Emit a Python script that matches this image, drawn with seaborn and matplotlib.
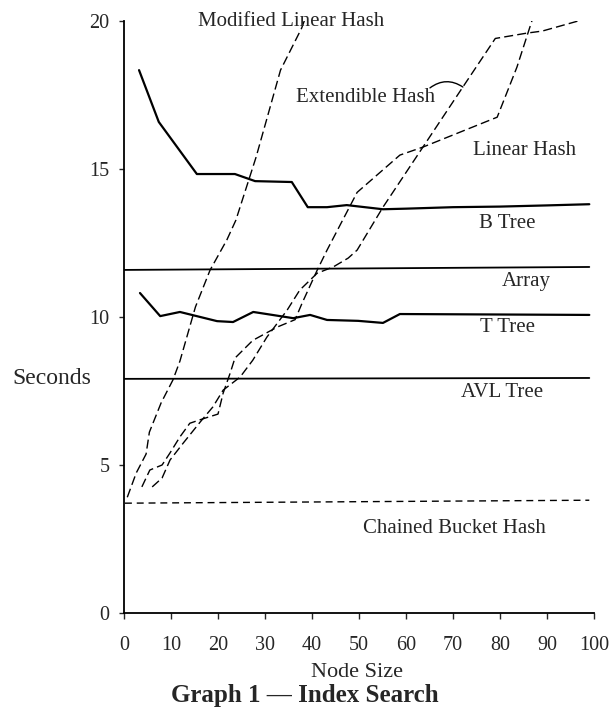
import matplotlib
matplotlib.use("Agg")
import matplotlib.pyplot as plt
import seaborn as sns
import numpy as np

# ---- data ----
btree_x = [3.2, 7.4, 15.5, 23.6, 27.9, 35.7, 39.1, 43.2, 47.4, 55.1, 60, 70, 80, 90, 99]
btree_y = [18.33, 16.58, 14.82, 14.82, 14.58, 14.55, 13.7, 13.7, 13.77, 13.63, 13.65, 13.7, 13.72, 13.76, 13.8]

ttree_x = [3.4, 7.7, 11.9, 19.8, 23.2, 27.5, 33.2, 36.0, 39.6, 43.2, 49.8, 55.1, 58.7, 99]
ttree_y = [10.8, 10.02, 10.16, 9.85, 9.82, 10.16, 10.02, 9.95, 10.06, 9.89, 9.86, 9.79, 10.09, 10.06]

array_x = [0, 99]
array_y = [11.58, 11.68]

avl_x = [0, 99]
avl_y = [7.9, 7.93]

chained_x = [0.2, 99]
chained_y = [3.7, 3.8]

mlh_x = [0.7, 2.6, 4.7, 5.4, 7.9, 10.4, 11.9, 15.2, 18.3, 21.9, 23.8, 28.1, 33.3, 37.8, 38.6]
mlh_y = [3.9, 4.72, 5.36, 6.1, 7.09, 7.86, 8.5, 10.33, 11.57, 12.6, 13.26, 15.39, 18.33, 19.75, 20.1]

linear_x = [3.8, 5.5, 8.1, 9.8, 11.9, 14.0, 16.6, 20.0, 21.1, 22.6, 23.6, 27.4, 32.6, 36.4,
            37.9, 41.1, 43.2, 49.6, 58.7, 63.6, 79.4, 83.6, 87.0]
linear_y = [4.25, 4.82, 4.99, 5.4, 5.94, 6.4, 6.54, 6.71, 7.42, 8.1, 8.6, 9.2, 9.65, 9.9,
            10.46, 11.57, 12.25, 14.2, 15.46, 15.73, 16.74, 18.43, 20.1]

ext_x = [6.0, 8.1, 9.8, 12.6, 16.2, 18.9, 21.1, 24.7, 27.4, 30.4, 34.7, 37.4, 41.1, 44.5,
         47.7, 49.6, 55.1, 63.6, 72.1, 79.0, 85.7, 89.0, 99.1]
ext_y = [4.25, 4.55, 5.16, 5.73, 6.44, 6.95, 7.52, 7.96, 8.53, 9.31, 10.22, 10.9, 11.47, 11.68,
         11.98, 12.25, 13.7, 15.73, 17.76, 19.4, 19.58, 19.65, 20.1]

x_ticks = [0, 10, 20, 30, 40, 50, 60, 70, 80, 90, 100]
y_ticks = [0, 5, 10, 15, 20]

labels = [
    ("Modified Linear Hash", 35.5, 19.98),
    ("Extendible Hash", 51.3, 17.4),
    ("Linear Hash", 85.2, 15.6),
    ("B Tree", 81.6, 13.15),
    ("Array", 85.7, 11.2),
    ("T Tree", 81.7, 9.65),
    ("AVL Tree", 80.4, 7.43),
    ("Chained Bucket Hash", 70.2, 2.86),
]

# ---- styling ----
sns.set_style("ticks")
plt.rcParams["font.family"] = ["Liberation Serif", "DejaVu Serif"]
plt.rcParams["lines.scale_dashes"] = False

fig = plt.figure(figsize=(6.13, 7.17), dpi=100)
ax = fig.add_axes([124 / 613, 1 - 612.7 / 717, 470 / 613, 592 / 717])

solid_kw = dict(color="black", estimator=None, sort=False, ax=ax, legend=False)

sns.lineplot(x=btree_x, y=btree_y, lw=1.6, **solid_kw)
sns.lineplot(x=ttree_x, y=ttree_y, lw=1.6, **solid_kw)
sns.lineplot(x=array_x, y=array_y, lw=1.3, **solid_kw)
sns.lineplot(x=avl_x, y=avl_y, lw=1.3, **solid_kw)

for xs, ys in [(mlh_x, mlh_y), (linear_x, linear_y), (ext_x, ext_y)]:
    sns.lineplot(x=xs, y=ys, lw=1.0, **solid_kw)
    ax.lines[-1].set_dashes([6.5, 3])

sns.lineplot(x=chained_x, y=chained_y, lw=1.0, **solid_kw)
ax.lines[-1].set_dashes([5, 3.5])

for txt, lx, ly in labels:
    ax.text(lx, ly, txt, ha="center", va="center", fontsize=15, clip_on=False)

# Extendible Hash pointer arc (from label to its curve)
ax.annotate("", xy=(72.1, 17.76), xytext=(65.1, 17.73),
            arrowprops=dict(arrowstyle="-", color="black", lw=1.0,
                            shrinkA=0, shrinkB=0,
                            connectionstyle="arc3,rad=-0.35"))

ax.set_xlim(0, 100)
ax.set_ylim(0, 20)
ax.set_xticks(x_ticks)
ax.set_yticks(y_ticks)
ax.tick_params(axis="x", direction="out", length=4.5, width=1.0, pad=12, labelsize=14.5)
ax.tick_params(axis="y", direction="out", length=3.5, width=1.0, pad=7, labelsize=14.5)
for s in ["top", "right"]:
    ax.spines[s].set_visible(False)
for s in ["left", "bottom"]:
    ax.spines[s].set_linewidth(1.3)
    ax.spines[s].set_color("black")

ax.set_xlabel("Node Size", fontsize=16)
ax.xaxis.set_label_coords((357 - 124) / 470, (612.7 - 677) / 592)
ax.xaxis.label.set_va("baseline")
ax.set_ylabel("Seconds", fontsize=17, rotation=0)
ax.yaxis.set_label_coords(-0.153, 0.395)
ax.yaxis.label.set_va("center")
ax.yaxis.label.set_ha("center")

ax.text((304.5 - 124) / 470, (612.7 - 702) / 592, "Graph 1 \u2014 Index Search",
        transform=ax.transAxes, ha="center", va="baseline",
        fontsize=18, fontweight="bold")

fig.savefig("out.png", dpi=100)
